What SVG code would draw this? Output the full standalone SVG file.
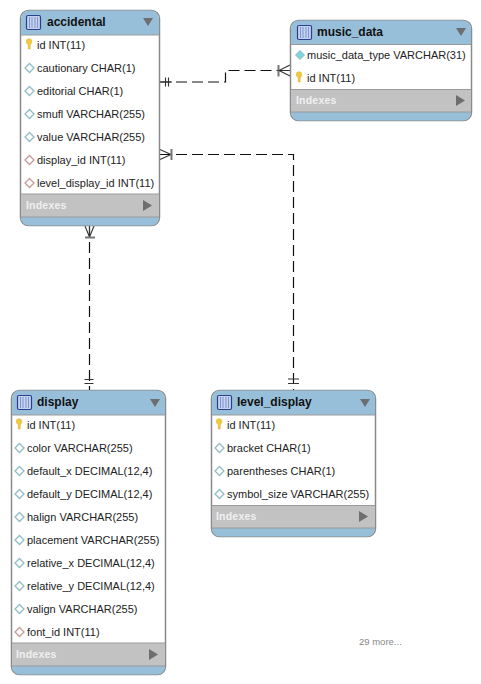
<svg xmlns="http://www.w3.org/2000/svg" xmlns:xlink="http://www.w3.org/1999/xlink" width="481" height="684" viewBox="0 0 481 684">
<style>
text{font-family:"Liberation Sans",Arial,sans-serif}
.box{fill:#fff;stroke:#8a8a8a;stroke-width:1.5}
.hd{fill:#98bfda}
.gr{fill:#c2c2c2}
.sep{stroke:#9a9a9a;stroke-width:1}
.t{font-size:12px;font-weight:bold;fill:#111}
.r{font-size:11px;fill:#222}
.ix{font-size:10.500px;font-weight:bold;fill:#f0f0f0;letter-spacing:.2px}
.arr{fill:#6e6e6e}
.con{fill:none;stroke:#111;stroke-width:1.2;stroke-dasharray:11 5}
.sym{fill:none;stroke:#333;stroke-width:1.1}
.bar{fill:none;stroke:#777;stroke-width:2}
.more{font-size:9.500px;fill:#888}
</style>
<defs>
<g id="ticon"><rect x="0.500" y="0.500" width="14" height="14" rx="1.500" fill="#c4d2ee" stroke="#2b3f8f" stroke-width="1.200"/><path d="M3.500 2v11M6 2v11M9 2v11M11.500 2v11" stroke="#7f93cf" stroke-width="1" fill="none"/></g>
<g id="key"><path d="M-2.800-3.500a2.800 2.800 0 0 1 5.600 0c0 1.800-1.100 2.400-1.600 3.300v4.200h-2v-4.200c-.5-.9-2-1.500-2-3.300z" fill="#f1cb3c" stroke="#d7ab26" stroke-width=".5"/></g>
<path id="dc" d="M0-4.500L4.500 0L0 4.500L-4.500 0z" fill="#fff" stroke="#8fbcc6" stroke-width="1.300"/>
<path id="dt" d="M0-4.500L4.500 0L0 4.500L-4.500 0z" fill="#7fd6de" stroke="#8fbcc6" stroke-width="1"/>
<path id="dr" d="M0-4.500L4.500 0L0 4.500L-4.500 0z" fill="#fff" stroke="#c69a9a" stroke-width="1.300"/>
</defs>
<g id="connectors">
<path class="con" d="M160 82H225.500V70.500H290"/>
<path class="con" d="M160 154.500H293.500V390"/>
<path class="con" d="M89.500 226V390"/>
<path class="sym" d="M160 82H172M165.500 77.500v9M168.500 77.500v9"/>
<path class="bar" d="M278.500 65v11.500"/>
<path class="sym" d="M290 65L279 70.500L290 76M279 70.500H290"/>
<path class="sym" d="M160 149.500L171 154.500L160 159.500"/>
<path class="bar" d="M171.500 149v11"/>
<path class="sym" d="M85 226L89.500 237L94 226M89.500 226V238"/>
<path class="bar" d="M85 237.500h10"/>
<path class="sym" d="M84.500 379.500h9M84.500 383.500h9"/>
<path class="sym" d="M288 379h11M288 383.500h11"/>
</g>
<g id="accidental">
<rect class="box" x="20.500" y="10.500" width="139" height="215" rx="8"/>
<path class="hd" d="M21 35V18.500a8 8 0 0 1 8-8H151a8 8 0 0 1 8 8V35z"/>
<path class="gr" d="M21 194H159V217H21z"/>
<path class="hd" d="M21 217H159V217.500a8 8 0 0 1-8 8H29a8 8 0 0 1-8-8z"/>
<path class="sep" d="M21 35H159M21 194H159M21 217H159"/>
<use xlink:href="#ticon" href="#ticon" x="26" y="15"/>
<text class="t" x="47" y="26">accidental</text>
<path class="arr" d="M143 18H153L148 26z"/>
<use xlink:href="#key" href="#key" x="29" y="45"/><text class="r" x="37" y="49">id INT(11)</text>
<use xlink:href="#dc" href="#dc" x="29.500" y="68"/><text class="r" x="37" y="72">cautionary CHAR(1)</text>
<use xlink:href="#dc" href="#dc" x="29.500" y="91"/><text class="r" x="37" y="95">editorial CHAR(1)</text>
<use xlink:href="#dc" href="#dc" x="29.500" y="114"/><text class="r" x="37" y="118">smufl VARCHAR(255)</text>
<use xlink:href="#dc" href="#dc" x="29.500" y="137"/><text class="r" x="37" y="141">value VARCHAR(255)</text>
<use xlink:href="#dr" href="#dr" x="29.500" y="160"/><text class="r" x="37" y="164">display_id INT(11)</text>
<use xlink:href="#dr" href="#dr" x="29.500" y="183"/><text class="r" x="37" y="187">level_display_id INT(11)</text>
<text class="ix" x="26" y="209">Indexes</text>
<path class="arr" d="M143 200L152 205.500L143 211z"/>
</g>
<g id="music_data">
<rect class="box" x="290.500" y="20.500" width="181" height="100" rx="8"/>
<path class="hd" d="M291 44.500V28.500a8 8 0 0 1 8-8H463a8 8 0 0 1 8 8V44.500z"/>
<path class="gr" d="M291 89H471V112H291z"/>
<path class="hd" d="M291 112H471V112.500a8 8 0 0 1-8 8H299a8 8 0 0 1-8-8z"/>
<path class="sep" d="M291 44.500H471M291 89.500H471M291 112H471"/>
<use xlink:href="#ticon" href="#ticon" x="297" y="25"/>
<text class="t" x="317" y="36">music_data</text>
<path class="arr" d="M456 28H466L461 36z"/>
<use xlink:href="#dt" href="#dt" x="300" y="55"/><text class="r" x="307" y="59">music_data_type VARCHAR(31)</text>
<use xlink:href="#key" href="#key" x="299" y="78"/><text class="r" x="307" y="82">id INT(11)</text>
<text class="ix" x="296" y="104">Indexes</text>
<path class="arr" d="M456 95L465 100.500L456 106z"/>
</g>
<g id="display">
<rect class="box" x="11.500" y="390.500" width="154" height="284" rx="8"/>
<path class="hd" d="M12 415V398.500a8 8 0 0 1 8-8H157a8 8 0 0 1 8 8V415z"/>
<path class="gr" d="M12 643H165V666H12z"/>
<path class="hd" d="M12 666H165V666.500a8 8 0 0 1-8 8H20a8 8 0 0 1-8-8z"/>
<path class="sep" d="M12 415H165M12 643H165M12 666H165"/>
<use xlink:href="#ticon" href="#ticon" x="17" y="395"/>
<text class="t" x="37" y="406">display</text>
<path class="arr" d="M150 399H160L155 407z"/>
<use xlink:href="#key" href="#key" x="19" y="425"/><text class="r" x="27" y="429">id INT(11)</text>
<use xlink:href="#dc" href="#dc" x="19.500" y="448"/><text class="r" x="27" y="452">color VARCHAR(255)</text>
<use xlink:href="#dc" href="#dc" x="19.500" y="471"/><text class="r" x="27" y="475">default_x DECIMAL(12,4)</text>
<use xlink:href="#dc" href="#dc" x="19.500" y="494"/><text class="r" x="27" y="498">default_y DECIMAL(12,4)</text>
<use xlink:href="#dc" href="#dc" x="19.500" y="517"/><text class="r" x="27" y="521">halign VARCHAR(255)</text>
<use xlink:href="#dc" href="#dc" x="19.500" y="540"/><text class="r" x="27" y="544">placement VARCHAR(255)</text>
<use xlink:href="#dc" href="#dc" x="19.500" y="563"/><text class="r" x="27" y="567">relative_x DECIMAL(12,4)</text>
<use xlink:href="#dc" href="#dc" x="19.500" y="586"/><text class="r" x="27" y="590">relative_y DECIMAL(12,4)</text>
<use xlink:href="#dc" href="#dc" x="19.500" y="609"/><text class="r" x="27" y="613">valign VARCHAR(255)</text>
<use xlink:href="#dr" href="#dr" x="19.500" y="632"/><text class="r" x="27" y="636">font_id INT(11)</text>
<text class="ix" x="16" y="658">Indexes</text>
<path class="arr" d="M149 649L158 654.500L149 660z"/>
</g>
<g id="level_display">
<rect class="box" x="211.500" y="390.500" width="164" height="146" rx="8"/>
<path class="hd" d="M212 415V398.500a8 8 0 0 1 8-8H367a8 8 0 0 1 8 8V415z"/>
<path class="gr" d="M212 505H375V528H212z"/>
<path class="hd" d="M212 528H375V528.500a8 8 0 0 1-8 8H220a8 8 0 0 1-8-8z"/>
<path class="sep" d="M212 415H375M212 505.500H375M212 528H375"/>
<use xlink:href="#ticon" href="#ticon" x="217" y="395"/>
<text class="t" x="237" y="406">level_display</text>
<path class="arr" d="M360 399H370L365 407z"/>
<use xlink:href="#key" href="#key" x="219" y="425"/><text class="r" x="227" y="429">id INT(11)</text>
<use xlink:href="#dc" href="#dc" x="219.500" y="448"/><text class="r" x="227" y="452">bracket CHAR(1)</text>
<use xlink:href="#dc" href="#dc" x="219.500" y="471"/><text class="r" x="227" y="475">parentheses CHAR(1)</text>
<use xlink:href="#dc" href="#dc" x="219.500" y="494"/><text class="r" x="227" y="498">symbol_size VARCHAR(255)</text>
<text class="ix" x="216" y="520">Indexes</text>
<path class="arr" d="M359 511L368 516.500L359 522z"/>
</g>
<text class="more" x="359" y="645">29 more...</text>
</svg>
